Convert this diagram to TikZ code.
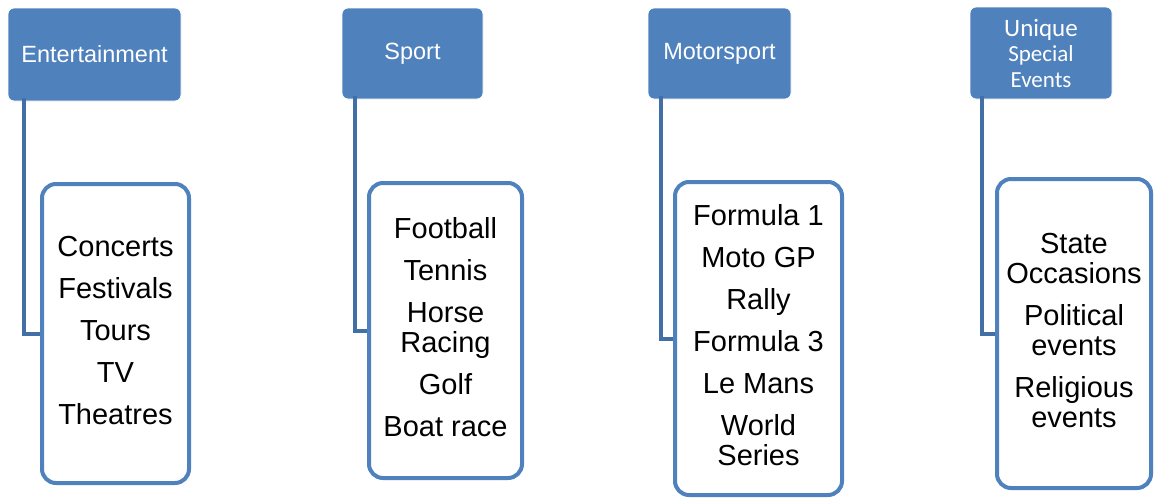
\documentclass[tikz,border=0pt]{standalone}
\usepackage{fontspec}
\setmainfont{Liberation Sans}
\newfontfamily\calfont{Carlito}
\definecolor{hdrblue}{HTML}{4F81BD}
\definecolor{connblue}{HTML}{416FA6}
\tikzset{
  hdr/.style={rectangle, fill=hdrblue, draw=white, line width=0.8pt, rounded corners=6pt,
    text=white, font=\fontsize{23.5}{26}\selectfont, align=center, inner sep=0pt},
  child/.style={rectangle, draw=hdrblue, line width=4pt, rounded corners=14pt, fill=white,
    align=center, inner sep=0pt, text depth=7pt, font=\fontsize{29}{30}\selectfont},
  conn/.style={draw=connblue, line width=4pt}
}
\begin{document}
\begin{tikzpicture}[x=1pt,y=-1pt]
\useasboundingbox (0,0) rectangle (1154,498);
% headers
\node[hdr, minimum width=173pt, minimum height=93pt] (h1) at (94.5,54.5) {Entertainment};
\node[hdr, minimum width=141pt, minimum height=91pt] (h2) at (412.5,53.5) {Sport};
\node[hdr, minimum width=143pt, minimum height=91pt] (h3) at (719.5,53.5) {Motorsport};
\node[hdr, minimum width=142pt, minimum height=92pt] (h4) at (1041,53) {%
  {\calfont\fontsize{25}{28}\selectfont Unique}\\[-1pt]
  {\calfont\fontsize{23}{26}\selectfont Special}\\
  {\calfont\fontsize{23}{26}\selectfont Events}};
% children
\node[child, minimum width=147pt, minimum height=299pt] (c1) at (115.5,333.5) {%
  Concerts\\[12pt]Festivals\\[12pt]Tours\\[12pt]TV\\[12pt]Theatres};
\node[child, minimum width=153pt, minimum height=295pt] (c2) at (445.5,330.5) {%
  Football\\[12pt]Tennis\\[12pt]Horse\\Racing\\[12pt]Golf\\[12pt]Boat race};
\node[child, minimum width=167pt, minimum height=313pt] (c3) at (758.5,338.5) {%
  Formula 1\\[12pt]Moto GP\\[12pt]Rally\\[12pt]Formula 3\\[12pt]Le Mans\\[12pt]World\\Series};
\node[child, minimum width=154pt, minimum height=309pt] (c4) at (1074,333.5) {%
  State\\Occasions\\[12pt]Political\\events\\[12pt]Religious\\events};
% connectors
\draw[conn] ([xshift=16pt,yshift=3pt]h1.south west) |- (c1.west);
\draw[conn] ([xshift=13pt,yshift=3pt]h2.south west) |- (c2.west);
\draw[conn] ([xshift=13pt,yshift=3pt]h3.south west) |- (c3.west);
\draw[conn] ([xshift=12pt,yshift=3pt]h4.south west) |- (c4.west);
\end{tikzpicture}
\end{document}
